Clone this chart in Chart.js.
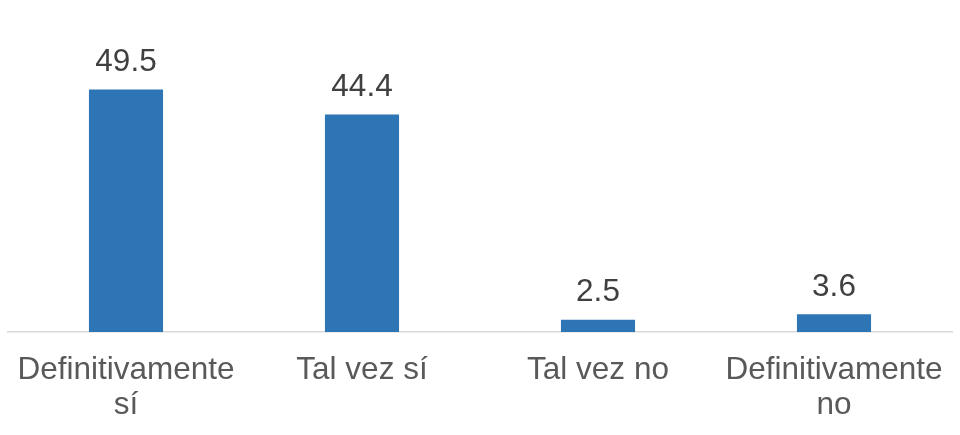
<!DOCTYPE html>
<html>
<head>
<meta charset="utf-8">
<script src="https://cdn.jsdelivr.net/npm/chart.js@4/dist/chart.umd.min.js"></script>
<style>
html,body{margin:0;padding:0;background:#fff;}
#wrap{width:960px;height:435px;position:relative;}
</style>
</head>
<body>
<div id="wrap"><canvas id="c" width="960" height="435"></canvas></div>
<script>
const categories = [["Definitivamente", "sí"], "Tal vez sí", "Tal vez no", ["Definitivamente", "no"]];
const values = [49.5, 44.4, 2.5, 3.6];
const valueLabels = ["49.5", "44.4", "2.5", "3.6"];

const FONT = "'Liberation Sans', Arial, sans-serif";

const dataLabelPlugin = {
  id: 'dataLabels',
  afterDatasetsDraw(chart) {
    const ctx = chart.ctx;
    const meta = chart.getDatasetMeta(0);
    ctx.save();
    ctx.font = '31.5px ' + FONT;
    ctx.fillStyle = '#404040';
    ctx.textAlign = 'center';
    ctx.textBaseline = 'alphabetic';
    meta.data.forEach((bar, i) => {
      ctx.fillText(valueLabels[i], bar.x, bar.y - 18.5);
    });
    ctx.restore();
  }
};

new Chart(document.getElementById('c'), {
  type: 'bar',
  data: {
    labels: categories,
    datasets: [{
      data: values,
      backgroundColor: '#2E75B6',
      borderWidth: 0,
      barPercentage: 1,
      categoryPercentage: 0.314
    }]
  },
  options: {
    responsive: false,
    animation: false,
    devicePixelRatio: 1,
    layout: { padding: { left: 8, right: 8, top: 38, bottom: 0 } },
    plugins: { legend: { display: false }, tooltip: { enabled: false } },
    scales: {
      y: { display: false, min: 0, max: 60 },
      x: {
        grid: { display: false, drawTicks: false },
        border: { display: true, color: '#D9D9D9', width: 1.5 },
        afterFit(axis) {
          axis.height = 103;
          axis.paddingLeft = 0;
          axis.paddingRight = 0;
        },
        ticks: {
          color: '#595959',
          font: { family: FONT, size: 31.5, lineHeight: 1.1 },
          padding: 21,
          maxRotation: 0,
          autoSkip: false
        }
      }
    }
  },
  plugins: [dataLabelPlugin]
});
</script>
</body>
</html>
